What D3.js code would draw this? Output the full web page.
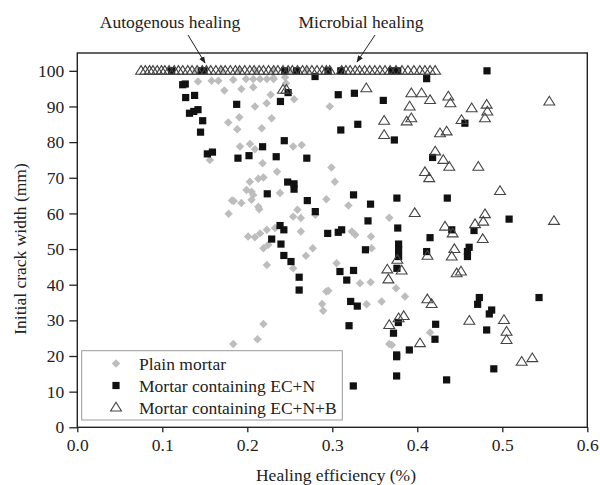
<!DOCTYPE html>
<html>
<head>
<meta charset="utf-8">
<script src="https://cdn.jsdelivr.net/npm/d3@7"></script>
<style>
  html, body { margin: 0; padding: 0; background: #fff; }
  svg { display: block; }
  text { font-family: "Liberation Serif", "Times New Roman", serif; fill: #222; }
</style>
</head>
<body>
<div id="chart"></div>
<script>
// Healing efficiency (%) vs. initial crack width (mm)
const seriesNames = ["Plain mortar", "Mortar containing EC+N", "Mortar containing EC+N+B"];
const xTicks = [0, 0.1, 0.2, 0.3, 0.4, 0.5, 0.6];
const yTicks = [0, 10, 20, 30, 40, 50, 60, 70, 80, 90, 100];

// [healing efficiency, initial crack width]
const plainMortar = [
  [0.110, 100], [0.140, 100], [0.170, 100], [0.190, 100], [0.210, 100], [0.230, 100], [0.250, 100], [0.270, 100],
  [0.142, 97.0], [0.158, 97.2], [0.166, 97.2], [0.1835, 97.5], [0.1985, 97.7], [0.207, 97.7], [0.215, 97.7],
  [0.223, 97.7], [0.231, 97.7], [0.2306, 98.0], [0.2444, 98.2], [0.2455, 96.5], [0.173, 94.5], [0.193, 94.9],
  [0.207, 95.4], [0.2275, 93.3], [0.209, 90.0], [0.2228, 90.9], [0.2287, 86.7], [0.1776, 85.5], [0.1906, 87.0],
  [0.1882, 83.6], [0.217, 83.9], [0.1914, 78.8], [0.2032, 79.5], [0.209, 78.0], [0.254, 78.8], [0.255, 92.0],
  [0.264, 79.2], [0.297, 90.0], [0.299, 72.9], [0.303, 68.9], [0.319, 62.2], [0.323, 54.9], [0.327, 54.0],
  [0.367, 58.8], [0.3455, 53.5], [0.156, 75.0], [0.218, 74.1], [0.235, 71.7], [0.203, 68.9], [0.213, 69.7],
  [0.219, 70.1], [0.199, 66.6], [0.205, 66.1], [0.182, 63.6], [0.184, 63.5], [0.193, 62.9], [0.207, 65.2],
  [0.205, 63.8], [0.214, 61.2], [0.213, 61.9], [0.2385, 65.7], [0.178, 59.9], [0.201, 53.5], [0.209, 53.3],
  [0.215, 54.4], [0.223, 55.4], [0.2326, 55.9], [0.219, 50.2], [0.2247, 51.2], [0.223, 45.5], [0.254, 59.1],
  [0.259, 61.0], [0.263, 58.7], [0.263, 54.9], [0.254, 44.6], [0.269, 48.1], [0.277, 50.2], [0.293, 64.0],
  [0.280, 59.6], [0.293, 38.1], [0.288, 34.6], [0.2893, 32.7], [0.219, 29.0], [0.212, 24.7], [0.1835, 23.4],
  [0.305, 46.0], [0.3463, 50.2], [0.3326, 40.4], [0.3451, 40.7], [0.2953, 38.3], [0.375, 39.0], [0.358, 35.3],
  [0.3855, 36.7], [0.3404, 34.5], [0.370, 23.1], [0.367, 23.4], [0.415, 26.6]
];

const mortarECN = [
  [0.111, 100], [0.146, 100], [0.149, 100], [0.244, 100], [0.258, 100], [0.295, 100], [0.310, 100],
  [0.370, 100], [0.377, 100], [0.482, 100],
  [0.2797, 98.4], [0.124, 96.1], [0.127, 96.3], [0.1275, 92.5], [0.138, 93.1], [0.132, 88.1], [0.137, 88.6],
  [0.142, 89.1], [0.1475, 86.0], [0.145, 82.8], [0.153, 76.7], [0.159, 77.2], [0.1875, 90.6], [0.189, 75.5],
  [0.202, 76.2], [0.218, 78.7], [0.2235, 65.5], [0.234, 75.9], [0.270, 75.5], [0.2475, 68.8], [0.255, 68.3],
  [0.255, 66.8], [0.2706, 63.6], [0.280, 60.5], [0.2946, 54.4], [0.2385, 56.6], [0.243, 55.4], [0.2287, 52.8],
  [0.2396, 51.4], [0.243, 48.2], [0.2514, 46.5], [0.261, 42.1], [0.261, 38.5], [0.307, 93.3], [0.326, 93.7],
  [0.360, 91.7], [0.239, 91.4], [0.248, 93.9], [0.310, 83.4], [0.330, 85.0], [0.373, 80.6], [0.2435, 80.4],
  [0.325, 65.2], [0.345, 62.6], [0.376, 64.3], [0.342, 57.9], [0.377, 55.9], [0.307, 54.7], [0.311, 55.4],
  [0.411, 97.8], [0.456, 85.3], [0.418, 75.7], [0.4353, 64.3], [0.508, 58.4], [0.4667, 55.2], [0.4405, 55.4],
  [0.415, 53.2], [0.339, 49.8], [0.378, 51.4], [0.378, 49.8], [0.378, 47.9], [0.376, 44.6], [0.411, 49.3],
  [0.461, 50.5], [0.459, 49.3], [0.459, 47.9], [0.309, 43.7], [0.325, 44.0], [0.317, 41.3], [0.3216, 35.3],
  [0.3294, 34.0], [0.473, 36.4], [0.471, 34.5], [0.5432, 36.4], [0.4875, 32.9], [0.4847, 31.8], [0.3197, 28.5],
  [0.3777, 29.4], [0.372, 26.4], [0.3757, 20.3], [0.3757, 19.8], [0.3757, 14.4], [0.3906, 21.7], [0.3247, 11.6],
  [0.4216, 28.9], [0.4208, 24.7], [0.4345, 13.3], [0.4816, 27.3], [0.490, 16.4]
];

const mortarECNB = [
  [0.075, 100], [0.080, 100], [0.085, 100], [0.089, 100], [0.094, 100], [0.099, 100], [0.103, 100], [0.108, 100],
  [0.114, 100], [0.119, 100], [0.124, 100], [0.130, 100], [0.135, 100], [0.141, 100], [0.147, 100], [0.152, 100],
  [0.157, 100], [0.163, 100], [0.169, 100], [0.174, 100], [0.180, 100], [0.186, 100], [0.191, 100], [0.197, 100],
  [0.203, 100], [0.208, 100], [0.214, 100], [0.219, 100], [0.225, 100], [0.231, 100], [0.236, 100], [0.242, 100],
  [0.248, 100], [0.253, 100], [0.259, 100], [0.265, 100], [0.270, 100], [0.276, 100], [0.282, 100], [0.288, 100],
  [0.293, 100], [0.297, 100], [0.311, 100], [0.316, 100], [0.321, 100], [0.327, 100], [0.332, 100], [0.338, 100],
  [0.344, 100], [0.350, 100], [0.356, 100], [0.362, 100], [0.368, 100], [0.375, 100], [0.382, 100], [0.389, 100],
  [0.396, 100], [0.403, 100], [0.409, 100], [0.415, 100], [0.421, 100],
  [0.340, 95.1], [0.242, 94.7], [0.246, 94.7], [0.361, 86.0], [0.361, 82.0], [0.393, 93.7], [0.391, 90.0],
  [0.3875, 85.8], [0.393, 86.7], [0.405, 93.7], [0.415, 91.8], [0.4365, 92.8], [0.439, 90.9], [0.464, 89.5],
  [0.4816, 90.5], [0.4824, 88.6], [0.4796, 86.7], [0.5553, 91.4], [0.4267, 82.5], [0.4345, 83.0], [0.452, 86.2],
  [0.4211, 77.4], [0.4306, 75.0], [0.4376, 73.1], [0.409, 71.6], [0.414, 69.9], [0.4718, 73.1], [0.4973, 66.3],
  [0.397, 60.1], [0.4796, 59.8], [0.4776, 57.7], [0.4679, 57.0], [0.4326, 56.3], [0.4416, 54.4], [0.5608, 57.9],
  [0.477, 52.8], [0.4436, 50.0], [0.4405, 47.9], [0.412, 48.1], [0.3765, 47.0], [0.3647, 44.3], [0.3816, 44.0],
  [0.366, 41.5], [0.4463, 43.2], [0.4514, 43.7], [0.4118, 35.9], [0.4169, 34.6], [0.378, 30.6], [0.384, 31.2],
  [0.367, 28.7], [0.4032, 23.6], [0.4612, 29.9], [0.502, 30.1], [0.505, 26.8], [0.505, 24.5], [0.5228, 18.4],
  [0.5353, 19.4]
];

const annotations = [
  { text: "Autogenous healing", tx: 170, ty: 27.5, from: [188, 35], to: [205, 63] },
  { text: "Microbial healing", tx: 361, ty: 27.5, from: [375, 35], to: [357, 62] }
];

const W = 600, H = 485;
const margin = { left: 77.3, right: 12.7, top: 53, bottom: 57.7 };

const svg = d3.select("#chart").append("svg")
  .attr("width", W).attr("height", H);

const x = d3.scaleLinear().domain([0, 0.6]).range([margin.left, W - margin.right]);
const y = d3.scaleLinear().domain([0, 105]).range([H - margin.bottom, margin.top]);

// Marker shapes
const diamondType = {
  draw(ctx, size) {
    const r = Math.sqrt(size) / 2;
    ctx.moveTo(0, -r); ctx.lineTo(r, 0); ctx.lineTo(0, r); ctx.lineTo(-r, 0); ctx.closePath();
  }
};
const triangleType = {
  draw(ctx, size) {
    const w = Math.sqrt(size);
    const h = w * 0.8;
    ctx.moveTo(0, -h * 0.6); ctx.lineTo(w / 2, h * 0.4); ctx.lineTo(-w / 2, h * 0.4); ctx.closePath();
  }
};
const diamond = d3.symbol().type(diamondType).size(72);
const square = d3.symbol().type(d3.symbolSquare).size(52);
const triangle = d3.symbol().type(triangleType).size(118);

// Axes
const yAxis = d3.axisLeft(y).tickValues(yTicks).tickSize(8).tickPadding(5).tickFormat(d3.format("d"));
const xAxis = d3.axisBottom(x).tickValues(xTicks).tickSize(5).tickPadding(6).tickFormat(d3.format(".1f"));

const gy = svg.append("g").attr("transform", `translate(${margin.left},0)`).call(yAxis);
const gx = svg.append("g").attr("transform", `translate(0,${H - margin.bottom})`).call(xAxis);
[gy, gx].forEach(g => {
  g.select(".domain").remove();
  g.selectAll(".tick line").attr("stroke", "#222").attr("stroke-width", 1.3);
  g.selectAll(".tick text").attr("font-size", 17.5).attr("fill", "#222")
    .attr("font-family", "Liberation Serif, Times New Roman, serif");
});

// Plot frame
svg.append("rect")
  .attr("x", x(0)).attr("y", y(105))
  .attr("width", x(0.6) - x(0)).attr("height", y(0) - y(105))
  .attr("fill", "none").attr("stroke", "#222").attr("stroke-width", 1.4);

// Data
const plot = svg.append("g");
plot.selectAll("path.plain").data(plainMortar).join("path")
  .attr("class", "plain")
  .attr("transform", d => `translate(${x(d[0])},${y(d[1])})`)
  .attr("d", diamond).attr("fill", "#bdbdbd");

plot.selectAll("path.ecn").data(mortarECN).join("path")
  .attr("class", "ecn")
  .attr("transform", d => `translate(${x(d[0])},${y(d[1])})`)
  .attr("d", square).attr("fill", "#111");

plot.selectAll("path.ecnb").data(mortarECNB).join("path")
  .attr("class", "ecnb")
  .attr("transform", d => `translate(${x(d[0])},${y(d[1])})`)
  .attr("d", triangle).attr("fill", "none").attr("stroke", "#444").attr("stroke-width", 1.1);

// Legend
const legend = svg.append("g");
legend.append("rect")
  .attr("x", 81.7).attr("y", 350.7).attr("width", 260.6).attr("height", 69.3)
  .attr("fill", "#fff").attr("stroke", "#999").attr("stroke-width", 1);
const legendShapes = [
  { sym: diamond, fill: "#bdbdbd", stroke: "none" },
  { sym: square, fill: "#111", stroke: "none" },
  { sym: triangle, fill: "none", stroke: "#444" }
];
seriesNames.forEach((name, i) => {
  const cy = 363.5 + i * 22;
  legend.append("path")
    .attr("transform", `translate(116,${cy})`)
    .attr("d", legendShapes[i].sym)
    .attr("fill", legendShapes[i].fill)
    .attr("stroke", legendShapes[i].stroke).attr("stroke-width", 1.1);
  legend.append("text")
    .attr("x", 139).attr("y", cy + 6)
    .attr("font-size", 17.5)
    .text(name);
});

// Axis titles
svg.append("text")
  .attr("x", 336).attr("y", 481)
  .attr("text-anchor", "middle").attr("font-size", 17.5)
  .text("Healing efficiency (%)");
svg.append("text")
  .attr("transform", `translate(26,249) rotate(-90)`)
  .attr("text-anchor", "middle").attr("font-size", 17.5)
  .text("Initial crack width (mm)");

// Annotations with arrows
svg.append("defs").append("marker")
  .attr("id", "arrowhead").attr("viewBox", "0 0 10 10")
  .attr("refX", 9).attr("refY", 5)
  .attr("markerWidth", 7).attr("markerHeight", 7)
  .attr("orient", "auto")
  .append("path").attr("d", "M0,1 L10,5 L0,9 Z").attr("fill", "#222");

annotations.forEach(a => {
  svg.append("text")
    .attr("x", a.tx).attr("y", a.ty)
    .attr("text-anchor", "middle").attr("font-size", 17.5)
    .text(a.text);
  svg.append("line")
    .attr("x1", a.from[0]).attr("y1", a.from[1])
    .attr("x2", a.to[0]).attr("y2", a.to[1])
    .attr("stroke", "#222").attr("stroke-width", 1)
    .attr("marker-end", "url(#arrowhead)");
});
</script>
</body>
</html>
